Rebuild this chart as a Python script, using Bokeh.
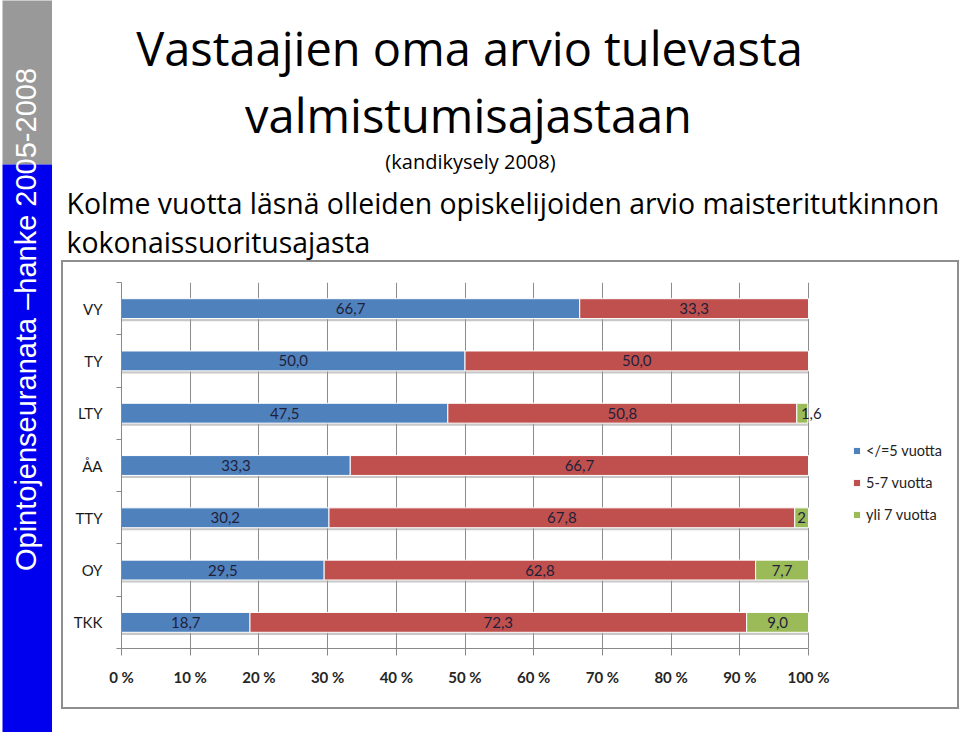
from bokeh.plotting import figure
from bokeh.models import (ColumnDataSource, Range1d, FixedTicker, Label,
                          BoxAnnotation, Legend, LegendItem, Spacer)
from bokeh.layouts import row, column
from bokeh.transform import dodge
from bokeh.embed import file_html
from bokeh.resources import INLINE
from bokeh.core.properties import value

# ---------------- data ----------------
categories = ["VY", "TY", "LTY", "ÅA", "TTY", "OY", "TKK"]
series_names = ["</=5 vuotta", "5-7 vuotta", "yli 7 vuotta"]
under5 = [66.7, 50.0, 47.5, 33.3, 30.2, 29.5, 18.7]
five_to_seven = [33.3, 50.0, 50.8, 66.7, 67.8, 62.8, 72.3]
over7 = [0.0, 0.0, 1.6, 0.0, 2.0, 7.7, 9.0]
under5_labels = ["66,7", "50,0", "47,5", "33,3", "30,2", "29,5", "18,7"]
five_to_seven_labels = ["33,3", "50,0", "50,8", "66,7", "67,8", "62,8", "72,3"]
over7_labels = ["", "", "1,6", "", "2", "7,7", "9,0"]
x_ticks = [0, 10, 20, 30, 40, 50, 60, 70, 80, 90, 100]
x_tick_labels = ["0 %", "10 %", "20 %", "30 %", "40 %", "50 %",
                 "60 %", "70 %", "80 %", "90 %", "100 %"]

title_line1 = "Vastaajien oma arvio tulevasta"
title_line2 = "valmistumisajastaan"
subtitle = "(kandikysely 2008)"
heading1 = "Kolme vuotta läsnä olleiden opiskelijoiden arvio maisteritutkinnon"
heading2 = "kokonaissuoritusajasta"
side_text = "Opintojenseuranata \u2013hanke 2005-2008"

colors = ["#4F81BD", "#C0504D", "#9BBB59"]
FONT = "Lato"
TFONT = "Open Sans"

# ---------------- layout constants (pixels) ----------------
PLOT_W = 687          # pixels from 0 % to 100 %
CHART_W, CHART_H = 894, 445
BORDER_L, BORDER_T, FRAME_H = 58, 20, 366
FRAME_W = CHART_W - BORDER_L - 7   # frame also holds the legend area

n = len(categories)
ypos = [n - 0.5 - i for i in range(n)]

l1 = [0.0] * n
r1 = list(under5)
l2 = r1
r2 = [a + b for a, b in zip(under5, five_to_seven)]
l3 = r2
r3 = [a + b for a, b in zip(r2, over7)]

src = ColumnDataSource(dict(y=ypos, l1=l1, r1=r1, l2=l2, r2=r2, l3=l3, r3=r3,
                            zero=[0.0] * n, total=r3))

lx, ly, lt, ldx = [], [], [], []
for lefts, rights, labs, vals in ((l1, r1, under5_labels, under5),
                                  (l2, r2, five_to_seven_labels, five_to_seven),
                                  (l3, r3, over7_labels, over7)):
    for i in range(n):
        if labs[i] and vals[i] > 0:
            lx.append((lefts[i] + rights[i]) / 2)
            ly.append(ypos[i])
            lt.append(labs[i])
            ldx.append(9 if vals[i] < 1.8 else 0)
lbl_src = ColumnDataSource(dict(x=lx, y=ly, text=lt, dx=ldx))


def bare(fig):
    fig.outline_line_color = None
    fig.background_fill_color = "white"
    fig.border_fill_color = "white"
    return fig


def blank_fig(w, h):
    f = bare(figure(width=w, height=h, output_backend="svg", toolbar_location=None,
                    x_range=Range1d(0, 1), y_range=Range1d(0, 1), title=None,
                    x_axis_location=None, y_axis_location=None,
                    min_border=0, min_border_left=0, min_border_right=0,
                    min_border_top=0, min_border_bottom=0))
    f.grid.visible = False
    return f


# ---------------- left band ----------------
band = blank_fig(52, 732)
band.add_layout(BoxAnnotation(left=2, right=60, top=740, bottom=568,
                              left_units="screen", right_units="screen",
                              top_units="screen", bottom_units="screen",
                              fill_color="#999999", fill_alpha=1, line_color=None))
band.add_layout(BoxAnnotation(left=2, right=60, top=568, bottom=-10,
                              left_units="screen", right_units="screen",
                              top_units="screen", bottom_units="screen",
                              fill_color="#0000EE", fill_alpha=1, line_color=None))
band.add_layout(Label(x=25, y=413, x_units="screen", y_units="screen",
                      text=side_text, angle=90, angle_units="deg",
                      text_align="center", text_baseline="middle",
                      text_color="white", text_font="Liberation Sans",
                      text_font_size="29px"))

# ---------------- titles ----------------
tfig = blank_fig(908, 262)


def tlabel(x, y, text, size, align="center"):
    tfig.add_layout(Label(x=x, y=y, x_units="screen", y_units="screen", text=text,
                          text_align=align, text_baseline="alphabetic",
                          text_color="black", text_font=TFONT,
                          text_font_size=size))


tlabel(417, 215, title_line1, "47px")
tlabel(416, 148, title_line2, "47px")
tlabel(418, 101, subtitle, "20px")
tlabel(14, 60, heading1, "28.4px", "left")
tlabel(14, 21, heading2, "28.4px", "left")

# ---------------- chart ----------------
p = bare(figure(width=CHART_W, height=CHART_H, output_backend="svg",
                toolbar_location=None, title=None,
                x_range=Range1d(0, 100 * FRAME_W / PLOT_W), y_range=Range1d(0, n),
                min_border_left=BORDER_L, min_border_right=CHART_W - BORDER_L - FRAME_W,
                min_border_top=BORDER_T, min_border_bottom=CHART_H - BORDER_T - FRAME_H,
                styles={"outline": "2px solid #8e8e8e"}))

p.xaxis.ticker = FixedTicker(ticks=x_ticks, minor_ticks=[])
p.xaxis.major_label_overrides = dict(zip(x_ticks, x_tick_labels))
p.xaxis.bounds = (x_ticks[0], x_ticks[-1])
p.xaxis.axis_line_color = "#888888"
p.xaxis.major_tick_line_color = "#888888"
p.xaxis.major_tick_out = 7
p.xaxis.major_tick_in = 0
p.xaxis.minor_tick_line_color = None
p.xaxis.major_label_standoff = 12
p.xaxis.major_label_text_font = FONT
p.xaxis.major_label_text_font_size = "15px"
p.xaxis.major_label_text_font_style = "bold"
p.xaxis.major_label_text_color = "#262626"

p.yaxis.ticker = FixedTicker(ticks=ypos, minor_ticks=list(range(n + 1)))
p.yaxis.major_label_overrides = dict(zip(ypos, categories))
p.yaxis.axis_line_color = "#888888"
p.yaxis.major_tick_out = 0
p.yaxis.major_tick_in = 0
p.yaxis.major_tick_line_color = None
p.yaxis.minor_tick_out = 5
p.yaxis.minor_tick_in = 0
p.yaxis.minor_tick_line_color = "#888888"
p.yaxis.major_label_standoff = 14
p.yaxis.major_label_text_font = FONT
p.yaxis.major_label_text_font_size = "15px"
p.yaxis.major_label_text_color = "#1a1a1a"

p.xgrid.ticker = FixedTicker(ticks=x_ticks)
p.xgrid.grid_line_color = "#8c8c8c"
p.ygrid.visible = False

bar_h = 0.38
p.hbar(y=dodge("y", -0.05), left="zero", right="total", height=bar_h, source=src,
       fill_color="#9a9a9a", fill_alpha=0.55, line_color=None)
rb1 = p.hbar(y="y", left="l1", right="r1", height=bar_h, source=src,
             fill_color=colors[0], line_color="white", line_width=1)
rb2 = p.hbar(y="y", left="l2", right="r2", height=bar_h, source=src,
             fill_color=colors[1], line_color="white", line_width=1)
rb3 = p.hbar(y="y", left="l3", right="r3", height=bar_h, source=src,
             fill_color=colors[2], line_color="white", line_width=1)

p.text(x="x", y="y", text="text", source=lbl_src, x_offset="dx",
       text_align="center", text_baseline="middle",
       text_font=value(FONT), text_font_size="15px", text_color="#1f1f3a")

legend = Legend(items=[LegendItem(label=series_names[0], renderers=[rb1]),
                       LegendItem(label=series_names[1], renderers=[rb2]),
                       LegendItem(label=series_names[2], renderers=[rb3])],
                location=(731, 124), orientation="vertical",
                glyph_width=9, glyph_height=9, label_standoff=5, spacing=12,
                padding=0, margin=0, border_line_color=None,
                background_fill_alpha=0, label_height=20,
                label_text_font=FONT, label_text_font_size="14.5px",
                label_text_color="#222222")
p.add_layout(legend)

layout = row(band, column(tfig, row(Spacer(width=11, height=CHART_H), p)))

open("out.html", "w").write(file_html(layout, INLINE))
